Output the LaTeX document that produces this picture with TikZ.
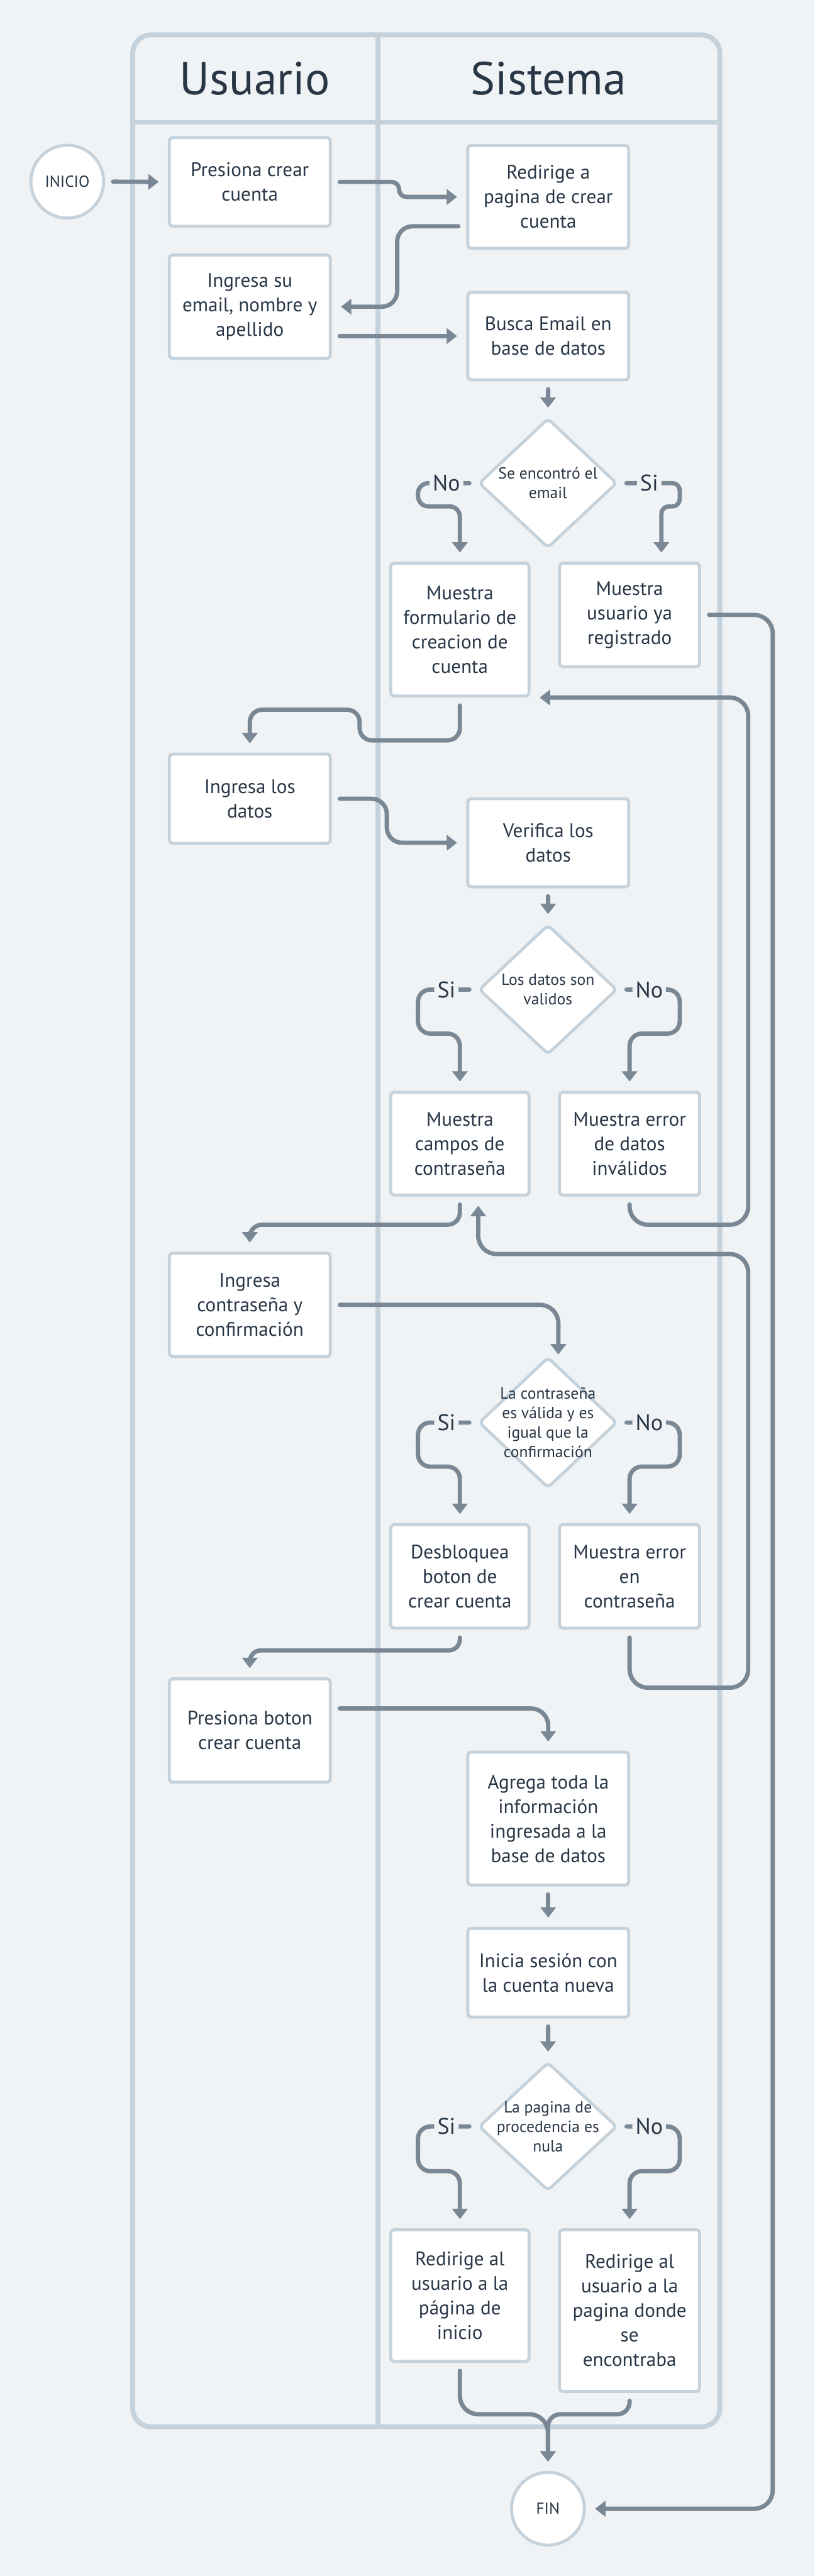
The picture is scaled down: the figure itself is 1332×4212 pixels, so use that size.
\documentclass[tikz,border=0pt]{standalone}
\usepackage{fontspec}
\setmainfont{PT Sans}
\usepackage{tikz}
\usetikzlibrary{shapes.geometric, arrows.meta, calc}
\definecolor{pagebg}{RGB}{239, 243, 246}
\definecolor{lanegray}{RGB}{197, 210, 220}
\definecolor{flowgray}{RGB}{122, 136, 150}
\definecolor{inkblue}{RGB}{40, 54, 70}

\begin{document}
\begin{tikzpicture}[x=0.01cm, y=-0.01cm,
  lane/.style={draw=lanegray, line width=2.3pt},
  lanetitle/.style={text=inkblue, font=\fontsize{21.5}{25}\selectfont},
  stepbox/.style={draw=lanegray, fill=white, line width=1.4pt, rounded corners=1.5pt, text=inkblue, align=center, inner sep=0pt, font=\fontsize{9.1}{11.4}\selectfont},
  userbox/.style={stepbox, minimum width=2.63cm},
  sysbox/.style={stepbox, minimum width=2.63cm},
  leftbox/.style={stepbox, minimum width=2.26cm},
  rightbox/.style={stepbox, minimum width=2.29cm},
  decision/.style={diamond, draw=lanegray, fill=white, line width=1.4pt, rounded corners=2pt, minimum width=2.26cm, minimum height=2.12cm, inner sep=0pt},
  dtext/.style={text=inkblue, align=center, font=\fontsize{7.5}{9.1}\selectfont},
  terminal/.style={circle, draw=lanegray, fill=white, line width=1.4pt, minimum size=1.19cm, inner sep=0pt, text=inkblue, font=\fontsize{7.4}{9}\selectfont},
  flow/.style={draw=flowgray, line width=2pt, line cap=round, -{Triangle[length=0.17cm, width=0.25cm]}, shorten <=0.13cm, shorten >=0.15cm, rounded corners=0.25cm},
  branch/.style={fill=pagebg, text=inkblue, inner sep=1.5pt, font=\fontsize{10.5}{12}\selectfont}]

  % Background
  \fill[pagebg] (0,0) rectangle (1332,4212);

  % Swimlanes
  \draw[lane, rounded corners=0.3cm] (217,57) rectangle (1177,3968);
  \draw[lane] (618,57) -- (618,3968);
  \draw[lane] (217,200) -- (1177,200);
  \node[lanetitle] (usuario) at (417,128) {Usuario};
  \node[lanetitle] (sistema) at (897,128) {Sistema};

  % Start and end
  \node[terminal] (inicio) at (110,297) {INICIO};
  \node[terminal] (fin) at (896,4102) {FIN};

  % Usuario lane
  \node[userbox, minimum height=1.45cm] (presiona) at (408.5,297.5) {Presiona crear\\cuenta};
  \node[userbox, minimum height=1.69cm] (ingresaemail) at (408.5,501.5) {Ingresa su\\email, nombre y\\apellido};
  \node[userbox, minimum height=1.46cm] (ingresadatos) at (408.5,1306) {Ingresa los\\datos};
  \node[userbox, minimum height=1.69cm] (ingresapass) at (408.5,2133.5) {Ingresa\\contraseña y\\confirmación};
  \node[userbox, minimum height=1.69cm] (presionaboton) at (408.5,2829.5) {Presiona boton\\crear cuenta};

  % Sistema lane
  \node[sysbox, minimum height=1.68cm] (redirige) at (896.5,322) {Redirige a\\pagina de crear\\cuenta};
  \node[sysbox, minimum height=1.43cm] (busca) at (896.5,549.5) {Busca Email en\\base de datos};
  \node[decision, label={[dtext]center:Se encontró el\\email}] (dec1) at (896,790) {};
  \node[leftbox, minimum height=2.17cm] (formulario) at (752,1029.5) {Muestra\\formulario de\\creacion de\\cuenta};
  \node[rightbox, minimum height=1.69cm] (yaregistrado) at (1029.5,1005.5) {Muestra\\usuario ya\\registrado};
  \node[sysbox, minimum height=1.44cm] (verifica) at (896.5,1378) {Verifica los\\datos};
  \node[decision, label={[dtext]center:Los datos son\\validos}] (dec2) at (896,1618) {};
  \node[leftbox, minimum height=1.68cm] (campos) at (752,1870) {Muestra\\campos de\\contraseña};
  \node[rightbox, minimum height=1.68cm] (errordatos) at (1029.5,1870) {Muestra error\\de datos\\inválidos};
  \node[decision, minimum height=2.14cm, label={[dtext]center:La contraseña\\es válida y es\\igual que la\\confirmación}] (dec3) at (896,2326) {};
  \node[leftbox, minimum height=1.69cm] (desbloquea) at (752,2577.5) {Desbloquea\\boton de\\crear cuenta};
  \node[rightbox, minimum height=1.69cm] (errorpass) at (1029.5,2577.5) {Muestra error\\en\\contraseña};
  \node[sysbox, minimum height=2.17cm] (agrega) at (896.5,2973.5) {Agrega toda la\\información\\ingresada a la\\base de datos};
  \node[sysbox, minimum height=1.45cm] (inicia) at (896.5,3225.5) {Inicia sesión con\\la cuenta nueva};
  \node[decision, minimum height=2.10cm, label={[dtext]center:La pagina de\\procedencia es\\nula}] (dec4) at (896,3477) {};
  \node[leftbox, minimum height=2.15cm] (redinicio) at (752,3753.5) {Redirige al\\usuario a la\\página de\\inicio};
  \node[rightbox, minimum height=2.64cm] (reddonde) at (1029.5,3778) {Redirige al\\usuario a la\\pagina donde\\se\\encontraba};

  % Registro de email
  \draw[flow] (inicio.east) -- (presiona.west);
  \draw[flow, rounded corners=0.12cm] (presiona.east) -- ++(110,0) |- (redirige.west);
  \draw[flow] ($(redirige.west)+(0,48)$) -- ++(-113,0) |- (ingresaemail.east);
  \draw[flow] (ingresaemail.east |- busca.west) -- (busca.west);
  \draw[flow] (busca) -- (dec1);
  \draw[flow, rounded corners=0.17cm] (dec1.west) -- node[branch, pos=0.52] {No} ++(-97,0) -- ++(0,38) -| (formulario.north);
  \draw[flow, rounded corners=0.12cm] (dec1.east) -- node[branch, pos=0.5] {Si} ++(100,0) -- ++(0,38) -| ($(yaregistrado.north)+(52,0)$);
  \draw[flow, rounded corners=0.3cm] (yaregistrado.east) -- ++(117,0) |- (fin.east);

  % Datos
  \draw[flow, rounded corners=0.2cm] (formulario.south) -- ++(0,70) -- ++(-164,0) -- ++(0,-50) -| (ingresadatos.north);
  \draw[flow] (ingresadatos.east) -- ++(90,0) |- (verifica.west);
  \draw[flow] (verifica) -- (dec2);
  \draw[flow, rounded corners=0.2cm] (dec2.west) -- node[branch, pos=0.52] {Si} ++(-97,0) -- ++(0,72) -| (campos.north);
  \draw[flow, rounded corners=0.2cm] (dec2.east) -- node[branch, pos=0.5] {No} ++(100,0) -- ++(0,72) -| (errordatos.north);
  \draw[flow, rounded corners=0.3cm] (errordatos.south) -- ++(0,46) -- ++(194,0) |- (formulario.south east);

  % Contrasena
  \draw[flow, rounded corners=0.2cm] (campos.south) -- ++(0,46) -| (ingresapass.north);
  \draw[flow, rounded corners=0.3cm, shorten >=0.5pt] (ingresapass.east) -| ($(dec3.north)+(17,0)$);
  \draw[flow, rounded corners=0.2cm] (dec3.west) -- node[branch, pos=0.52] {Si} ++(-97,0) -- ++(0,72) -| (desbloquea.north);
  \draw[flow, rounded corners=0.2cm] (dec3.east) -- node[branch, pos=0.5] {No} ++(100,0) -- ++(0,72) -| (errorpass.north);
  \draw[flow, rounded corners=0.3cm] (errorpass.south) -- ++(0,95) -- ++(194,0) -- ++(0,-709) -| ($(campos.south)+(30,0)$);

  % Crear cuenta
  \draw[flow, rounded corners=0.18cm] (desbloquea.south) -- ++(0,34) -| (presionaboton.north);
  \draw[flow, rounded corners=0.28cm] ($(presionaboton.east)+(0,-36)$) -| (agrega.north);
  \draw[flow] (agrega) -- (inicia);
  \draw[flow] (inicia) -- (dec4);
  \draw[flow, rounded corners=0.2cm] (dec4.west) -- node[branch, pos=0.52] {Si} ++(-97,0) -- ++(0,73) -| (redinicio.north);
  \draw[flow, rounded corners=0.2cm] (dec4.east) -- node[branch, pos=0.5] {No} ++(100,0) -- ++(0,73) -| (reddonde.north);
  \draw[flow, rounded corners=0.3cm] (redinicio.south) -- ++(0,84) -| (fin.north);
  \draw[flow, rounded corners=0.2cm] (reddonde.south) -- ++(0,35) -| (fin.north);
\end{tikzpicture}
\end{document}
